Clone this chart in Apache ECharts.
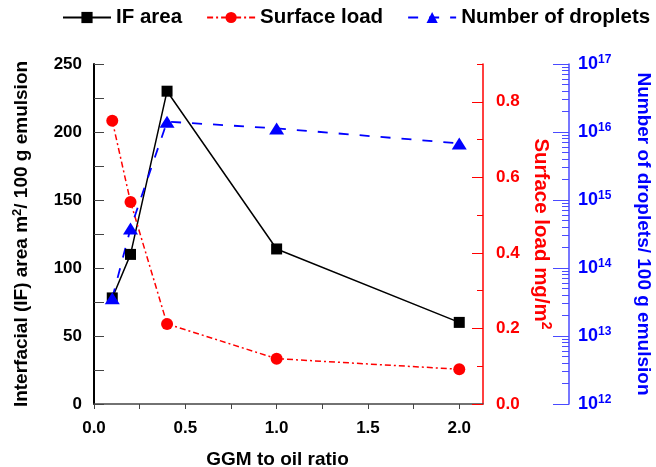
<!DOCTYPE html>
<html><head><meta charset="utf-8">
<script src="https://cdn.jsdelivr.net/npm/echarts@6/dist/echarts.min.js"></script>
<style>html,body{margin:0;padding:0;background:#fff}#c{width:656px;height:467px}</style>
</head><body><div id="c"></div>
<script>
const ratios = [0.1, 0.2, 0.4, 1.0, 2.0];
const ifArea = [78, 110, 230, 114, 60];
const surfaceLoad = [0.75, 0.535, 0.212, 0.12, 0.092];
const droplets = [3.6e13, 3.8e14, 1.42e16, 1.13e16, 6.8e15];
const xLabels = [0, 0.5, 1.0, 1.5, 2.0];
const xTicks = [0, 0.25, 0.5, 0.75, 1.0, 1.25, 1.5, 1.75, 2.0];
const leftLabels = [0, 50, 100, 150, 200, 250];
const leftTicks = [0, 25, 50, 75, 100, 125, 150, 175, 200, 225, 250];
const redLabels = [0, 0.2, 0.4, 0.6, 0.8];
const redMinor = [0.1, 0.3, 0.5, 0.7, 0.9];
const decades = [12, 13, 14, 15, 16, 17];

const FONT = 'Liberation Sans';
const blueMinor = [];
for (let d = decades[0]; d < decades[decades.length - 1]; d++) for (let k = 2; k <= 9; k++) blueMinor.push(d + Math.log10(k));

const pair = a => ratios.map((x, i) => [x, a[i]]);
const base = {fontFamily: FONT, fontWeight: 'bold', fontSize: 17};

const chart = echarts.init(document.getElementById('c'), null, {renderer: 'canvas'});
chart.setOption({
  animation: false,
  backgroundColor: '#fff',
  textStyle: {fontFamily: FONT},
  legend: {
    left: 62, top: 7, padding: 0, width: 594, itemWidth: 48, itemHeight: 14, itemGap: 24,
    textStyle: {fontFamily: FONT, fontWeight: 'bold', fontSize: 20.5, color: '#000'},
    data: ['IF area', 'Surface load', 'Number of droplets']
  },
  grid: {left: 94, right: 173, top: 64, bottom: 63, containLabel: false, outerBoundsMode: 'none'},
  xAxis: {
    type: 'value', min: 0, max: 2.13,
    name: 'GGM to oil ratio', nameLocation: 'middle', nameGap: 46,
    nameTextStyle: {fontFamily: FONT, fontWeight: 'bold', fontSize: 19, color: '#000', padding: [0, 22, 0, 0]},
    axisLine: {lineStyle: {color: '#444', width: 1.5}},
    axisTick: {show: true, inside: false, length: 5, customValues: xTicks, lineStyle: {color: '#444', width: 1}},
    axisLabel: Object.assign({color: '#000', margin: 16, customValues: xLabels, formatter: v => v.toFixed(1)}, base),
    splitLine: {show: false}
  },
  yAxis: [
    {
      type: 'value', min: 0, max: 250, position: 'left',
      name: '{a|Interfacial (IF) area m}{s|2}{a|/ 100 g emulsion}',
      nameLocation: 'middle', nameGap: 61,
      nameTextStyle: {rich: {
        a: {fontFamily: FONT, fontWeight: 'bold', fontSize: 19, color: '#000'},
        s: {fontFamily: FONT, fontWeight: 'bold', fontSize: 13, color: '#000', verticalAlign: 'top', padding: [0, 0, 9, 0]}
      }},
      axisLine: {show: true, lineStyle: {color: '#000', width: 2}},
      axisTick: {show: true, inside: true, length: 10, customValues: leftTicks, lineStyle: {color: '#444', width: 1}},
      axisLabel: Object.assign({color: '#000', margin: 12, customValues: leftLabels}, base),
      splitLine: {show: false}
    },
    {
      type: 'value', min: 0, max: 0.9, position: 'right',
      name: '{a|Surface load mg/m}{s|2}', nameLocation: 'middle', nameGap: 45, nameRotate: -90,
      nameTextStyle: {rich: {
        a: {fontFamily: FONT, fontWeight: 'bold', fontSize: 20.5, color: '#ff0000'},
        s: {fontFamily: FONT, fontWeight: 'bold', fontSize: 14, color: '#ff0000', verticalAlign: 'top', padding: [0, 0, 9, 0]}
      }},
      axisLine: {show: true, lineStyle: {color: '#ff0000', width: 1.5}},
      axisTick: {show: true, inside: true, length: 11, customValues: redLabels, lineStyle: {color: '#ff0000', width: 1}},
      axisLabel: Object.assign({color: '#ff0000', margin: 13, customValues: redLabels, formatter: v => v.toFixed(1)}, base),
      splitLine: {show: false}
    },
    {
      type: 'log', logBase: 10, min: 1e12, max: 1e17, position: 'right', offset: 86,
      name: 'Number of droplets/ 100 g emulsion', nameLocation: 'middle', nameGap: 65, nameRotate: -90,
      nameTextStyle: {fontFamily: FONT, fontWeight: 'bold', fontSize: 19, color: '#0000ff'},
      axisLine: {show: true, lineStyle: {color: '#4a4aff', width: 1.5}},
      axisTick: {show: true, inside: true, length: 16, lineStyle: {color: '#4a4aff', width: 1}},
      axisLabel: {
        margin: 9,
        formatter: v => '{b|10}{s|' + Math.round(Math.log10(v)) + '}',
        rich: {
          b: {fontFamily: FONT, fontWeight: 'bold', fontSize: 18, color: '#0000ff'},
          s: {fontFamily: FONT, fontWeight: 'bold', fontSize: 12, color: '#0000ff', verticalAlign: 'top', padding: [0, 0, 9, 0]}
        }
      },
      splitLine: {show: false}
    },
    {
      type: 'value', min: 0, max: 0.9, position: 'right',
      axisLine: {show: false}, axisLabel: {show: false}, splitLine: {show: false},
      axisTick: {show: true, inside: true, length: 6, customValues: redMinor, lineStyle: {color: '#ff0000', width: 1}}
    },
    {
      type: 'value', min: 12, max: 17, position: 'right', offset: 86,
      axisLine: {show: false}, axisLabel: {show: false}, splitLine: {show: false},
      axisTick: {show: true, inside: true, length: 7, customValues: blueMinor, lineStyle: {color: '#4a4aff', width: 1}}
    }
  ],
  series: [
    {
      name: 'IF area', type: 'line', yAxisIndex: 0, data: pair(ifArea),
      symbol: 'rect', symbolSize: 11,
      itemStyle: {color: '#000'}, lineStyle: {color: '#000', width: 1.5}
    },
    {
      name: 'Surface load', type: 'line', yAxisIndex: 1, data: pair(surfaceLoad),
      symbol: 'circle', symbolSize: 12,
      itemStyle: {color: '#ff0000'}, lineStyle: {color: '#ff0000', width: 1.5, type: [6, 3, 2, 3]}
    },
    {
      name: 'Number of droplets', type: 'line', yAxisIndex: 2, data: pair(droplets),
      symbol: 'triangle', symbolSize: [15, 12],
      itemStyle: {color: '#0000ff'}, lineStyle: {color: '#0000ff', width: 1.8, type: [10, 11]}
    }
  ]
});
</script></body></html>
